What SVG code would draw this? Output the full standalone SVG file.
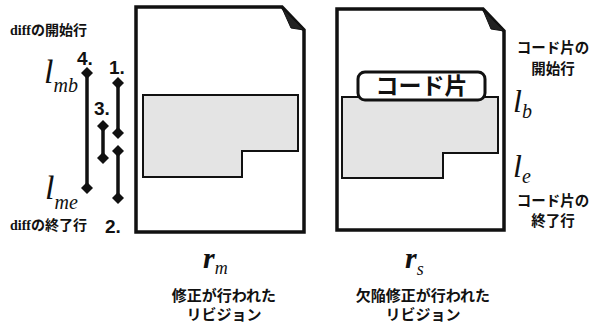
<svg xmlns="http://www.w3.org/2000/svg" width="592" height="324" viewBox="0 0 592 324">
<style>
.doc{fill:#fff;stroke:#111;stroke-width:3.5;stroke-linejoin:miter}
.fold{fill:#222;stroke:#111;stroke-width:1}
.shade{fill:#e4e4e4;stroke:#111;stroke-width:2}
.jp{font-family:"Noto Sans CJK JP","Noto Sans",sans-serif;font-weight:bold;fill:#111}
.num{font-family:"Liberation Sans",Arial,sans-serif;font-weight:bold;font-size:19px;fill:#111}
.it{font-family:"Liberation Serif","Times New Roman",serif;font-style:italic;fill:#111}
.dl{stroke:#111;stroke-width:3.5;fill:none}
</style>
<defs>
<marker id="dia" viewBox="-6 -6 12 12" markerWidth="12" markerHeight="12" markerUnits="userSpaceOnUse" refX="0" refY="0">
<path d="M0,-6 L6,0 L0,6 L-6,0 Z" fill="#111"/>
</marker>
</defs>
<g id="doc-rm">
<path class="doc" d="M136,7 L282,7 L304,30 L304,232 L136,232 Z"/>
<path class="fold" d="M282,8 L304,30 L291,28 Z"/>
<polygon class="shade" points="143,95 298,95 298,151 242,151 242,177 143,177"/>
</g>
<g id="doc-rs">
<path class="doc" d="M337,9 L483,9 L504,31 L504,230 L337,230 Z"/>
<path class="fold" d="M483,10 L504,31 L491,29 Z"/>
<polygon class="shade" points="342,97 498,97 498,153 443,153 443,178 342,178"/>
<rect x="358" y="72" width="127" height="28" rx="7" fill="#fff" stroke="#111" stroke-width="3"/>
<text class="jp" x="421.5" y="94" font-size="23" text-anchor="middle">コード片</text>
</g>
<g id="connectors">
<line class="dl" x1="87" y1="73" x2="87" y2="188" marker-start="url(#dia)" marker-end="url(#dia)"/>
<line class="dl" x1="118" y1="83" x2="118" y2="133" marker-start="url(#dia)" marker-end="url(#dia)"/>
<line class="dl" x1="103" y1="126" x2="103" y2="158" marker-start="url(#dia)" marker-end="url(#dia)"/>
<line class="dl" x1="118" y1="151" x2="118" y2="198" marker-start="url(#dia)" marker-end="url(#dia)"/>
</g>
<g id="labels-left">
<text x="10" y="35" font-size="14"><tspan font-family="Liberation Serif,serif" font-weight="bold" fill="#111">diff</tspan><tspan class="jp">の開始行</tspan></text>
<text x="10" y="230" font-size="14"><tspan font-family="Liberation Serif,serif" font-weight="bold" fill="#111">diff</tspan><tspan class="jp">の終了行</tspan></text>
<text class="num" x="77" y="65">4.</text>
<text class="num" x="109" y="74">1.</text>
<text class="num" x="94" y="115">3.</text>
<text class="num" x="105" y="233">2.</text>
<text class="it" x="44" y="83" font-size="34">l<tspan font-size="20" dy="9">mb</tspan></text>
<text class="it" x="45" y="199" font-size="34">l<tspan font-size="20" dy="10">me</tspan></text>
</g>
<g id="labels-right">
<text class="jp" x="553" y="53" font-size="14.5" text-anchor="middle">コード片の</text>
<text class="jp" x="553" y="74" font-size="14.5" text-anchor="middle">開始行</text>
<text class="it" x="513" y="112" font-size="32">l<tspan font-size="20" dy="6">b</tspan></text>
<text class="it" x="513" y="177" font-size="32">l<tspan font-size="20" dy="6">e</tspan></text>
<text class="jp" x="553" y="206" font-size="14.5" text-anchor="middle">コード片の</text>
<text class="jp" x="553" y="226" font-size="14.5" text-anchor="middle">終了行</text>
</g>
<g id="labels-bottom">
<text class="it" x="203" y="268" font-size="30" font-weight="bold">r<tspan font-size="18" dy="6" font-weight="normal">m</tspan></text>
<text class="jp" x="224" y="301" font-size="15" text-anchor="middle">修正が行われた</text>
<text class="jp" x="224" y="320" font-size="15" text-anchor="middle">リビジョン</text>
<text class="it" x="405" y="268" font-size="30" font-weight="bold">r<tspan font-size="18" dy="7" font-weight="normal">s</tspan></text>
<text class="jp" x="423" y="301" font-size="15" text-anchor="middle">欠陥修正が行われた</text>
<text class="jp" x="423" y="320" font-size="15" text-anchor="middle">リビジョン</text>
</g>
</svg>
